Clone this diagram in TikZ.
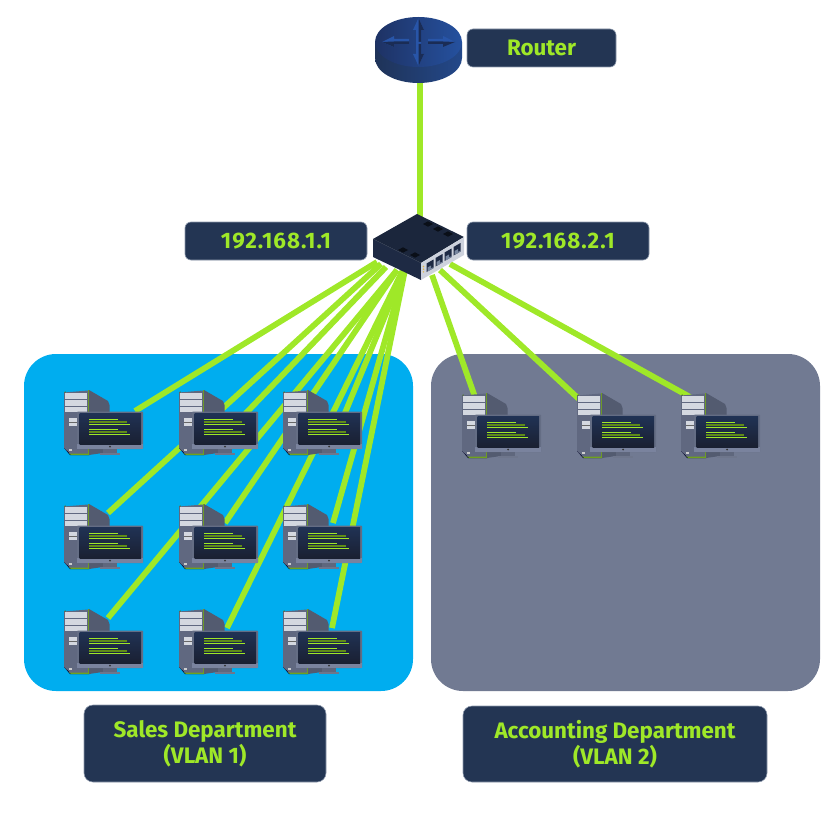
\documentclass[tikz,border=0pt]{standalone}
\usepackage{fontspec}
\setmainfont{Fira Sans}
\newfontfamily\ipfont[LetterSpace=4.4]{Fira Sans}
\definecolor{linkgreen}{HTML}{9FE828}
\definecolor{labelbg}{HTML}{233553}
\definecolor{labeledge}{HTML}{8E9AAD}
\definecolor{vlanblue}{HTML}{00ADEF}
\definecolor{vlangrey}{HTML}{717A92}
\definecolor{routerA}{HTML}{1F3358}
\definecolor{routerB}{HTML}{25519F}
\definecolor{swdark}{HTML}{1E2A44}
\definecolor{swtop}{HTML}{1B263C}
\definecolor{arrowdark}{HTML}{1A2C55}
\definecolor{arrowlight}{HTML}{2855A8}
\tikzset{
  x=1pt,y=-1pt,
  link/.style={line width=5.8pt,draw=linkgreen},
  region/.style={rounded corners=32pt,draw=none},
  tag/.style={draw=labeledge,line width=0.6pt,fill=labelbg,rounded corners=6pt,text=linkgreen,
    font=\fontsize{22.4}{26}\selectfont\bfseries,align=center,inner sep=0pt},
  scr/.style={line width=1.3pt,draw=linkgreen},
  scrd/.style={line width=1.3pt,draw=linkgreen!60!black},
  workstation/.pic={
    \fill[fill=black!70!blue!50!black] (-1,58) -- (5,65) -- (24,65) -- (24,60) -- cycle;
    \fill[fill=linkgreen!70!black] (23,0) -- (24,0) -- (24.5,65) -- (6,65) -- (4,63) -- (23,63) -- cycle;
    \fill[fill=linkgreen!50!black] (-1,2) -- (1,1.5) -- (0.5,5) -- (-1,5) -- cycle;
    \fill[fill={rgb,255:red,83;green,91;blue,112}] (24,0) -- (43,11) -- (44.5,15) -- (44.5,62) -- (24,65) -- cycle;
    \fill[fill={rgb,255:red,96;green,104;blue,128}] (-1,2.5) -- (23,0.5) -- (23,63.5) -- (5,63.5) -- (-1,58) -- cycle;
    \foreach \yy/\hh in {3/5.5,10/5.5,17/5}{
      \fill[fill={rgb,255:red,212;green,216;blue,224}] (0,\yy) rectangle (22,\yy+\hh);
    }
    \fill[fill={rgb,255:red,212;green,216;blue,224}] (4,28) rectangle (13,32);
    \fill[fill={rgb,255:red,212;green,216;blue,224}] (4,33) rectangle (13,35.5);
    \fill[fill=black!60] (4,32) rectangle (13,33);
    \fill[fill=white!80!black] (4,59) rectangle (7,60.5);
    \fill[fill={rgb,255:red,95;green,103;blue,125}] (38,59) rectangle (52,63);
    \fill[fill={rgb,255:red,110;green,118;blue,140}] (35,63) rectangle (55,65);
    \fill[fill={rgb,255:red,100;green,109;blue,132},rounded corners=0.8pt] (12,21.5) rectangle (78,59);
    \fill[fill={rgb,255:red,122;green,131;blue,158}] (12,54) rectangle (78,59);
    \shade[top color={rgb,255:red,32;green,50;blue,84},bottom color={rgb,255:red,26;green,32;blue,50}] (14.5,23.5) rectangle (76,54);
    \fill[fill=black!80] (45,56.5) circle[radius=1];
    \draw[scr] (24,29.5) -- (53,29.5);
    \draw[scrd] (24,32) -- (62,32);
    \draw[scr] (24,34.5) -- (65,34.5);
    \draw[scr] (24,39.5) -- (53,39.5);
    \draw[scrd] (24,42) -- (62,42);
    \draw[scr] (24,44.5) -- (65,44.5);
  },
  routerarrow/.style={fill=arrowdark},
  routerarrowb/.style={fill=arrowlight},
}
\begin{document}
\begin{tikzpicture}
\useasboundingbox (0,0) rectangle (829,813);
% VLAN regions
\fill[region,fill=vlanblue] (24,354) rectangle (413,691);
\fill[region,fill=vlangrey] (431,354) rectangle (820,691);

% anchor nodes
\node[inner sep=0pt,minimum size=2pt] (router) at (420,75) {};
\node[inner sep=0pt,minimum size=2pt] (switchtop) at (420,225) {};
\foreach \n/\x/\y in {a/377/262,b/381/264,c/386/267,d/397/270,e/397/270,f/403/270,g/404/270,h/405/270,i/405/270,x/432/275,y/440/270,z/450/264}{
  \coordinate (sw\n) at (\x,\y);
}
\foreach \n/\x/\y in {wsa/135/411,wsb/108/513,wsc/225/435,wsd/108/618,wse/225/523,wsf/227/628,wsg/340/425,wsh/333/523,wsi/332/628,wsx/475/397,wsy/580/400,wsz/690/397}{
  \node[inner sep=0pt,minimum size=1pt] (\n) at (\x,\y) {};
}
% connectors
\draw[link] (router.center) -- (switchtop.center);
\foreach \n in {a,b,c,d,e,f,g,h,i,x,y,z}{
  \draw[link] (sw\n) -- (ws\n.center);
}

% workstations
\foreach \x/\y in {65/390,180/390,284/390,65/504,180/504,284/504,65/609,180/609,284/609,463/393,578/393,682/393}{
  \pic at (\x,\y) {workstation};
}

% router
\shade[left color=routerA,right color=routerB!70!routerA]
  (375,42) -- (375,58) arc[start angle=180,end angle=0,x radius=43.5,y radius=25] -- (462,42) -- cycle;
\shade[left color={rgb,255:red,30;green,50;blue,100},right color=routerB]
  (418.5,42) circle[x radius=43.5,y radius=25];
% router arrows
\fill[routerarrowb] (418.5,18) -- (424,30) -- (421,30) -- (421,42) -- (416,42) -- (416,30) -- (413,30) -- cycle;
\fill[routerarrow] (418.5,18) -- (424,30) -- (421,30) -- (421,42) -- (418.5,42) -- cycle;
\fill[routerarrowb] (418.5,66) -- (424,54) -- (421,54) -- (421,42) -- (416,42) -- (416,54) -- (413,54) -- cycle;
\fill[routerarrow] (418.5,66) -- (424,54) -- (421,54) -- (421,44) -- (418.5,44) -- cycle;
\fill[routerarrowb] (382,42) -- (394,36) -- (394,39) -- (409,39) -- (409,44) -- (394,44) -- (394,47) -- cycle;
\fill[routerarrow] (382,42) -- (394,47) -- (394,44) -- (409,44) -- (409,41.5) -- (394,41.5) -- cycle;
\fill[routerarrowb] (455,42) -- (443,36) -- (443,39) -- (428,39) -- (428,44) -- (443,44) -- (443,47) -- cycle;
\fill[routerarrow] (455,42) -- (443,47) -- (443,44) -- (428,44) -- (428,41.5) -- (443,41.5) -- cycle;

% switch
\fill[swdark] (373,239) -- (421,263) -- (421,280) -- (373,257) -- cycle;
\fill[swtop] (373,239) -- (417,214) -- (464,237) -- (421,263) -- cycle;
\fill[fill={rgb,255:red,205;green,210;blue,220}] (421,263) -- (464,237) -- (464,255) -- (421,280) -- cycle;
\foreach \cx/\cy in {430/266,439/260.5,448/255,457/249.5}{
  \fill[fill=swdark,shift={(\cx,\cy)}] (-3.5,-2.5) -- (3.5,-6.5) -- (3.5,2) -- (-3.5,6) -- cycle;
  \fill[fill={rgb,255:red,120;green,135;blue,160},shift={(\cx,\cy)}] (-2.5,1.5) -- (1,-0.5) -- (1,2.5) -- (3.5,1) -- (3.5,2) -- (-2.5,5.5) -- cycle;
}
\foreach \dy in {0,2.7,5.4}{
  \fill[fill={rgb,255:red,225;green,180;blue,70}] (423.5,266.5+\dy) circle[radius=0.8];
}
\foreach \cx/\cy in {428/224,438/229,448/234,403/250,415/255}{
  \fill[fill=black!65!swdark,shift={(\cx,\cy)}] (-5,0) -- (0,-2.7) -- (5,0) -- (0,2.7) -- cycle;
}

% labels
\node[tag,minimum width=149pt,minimum height=38pt] (routerlabel) at (541.5,48) {Router};
\node[tag,minimum width=182pt,minimum height=38pt] (ipa) at (276,241) {\ipfont\bfseries 192.168.1.1};
\node[tag,minimum width=182pt,minimum height=38pt] (ipb) at (558,241) {\ipfont\bfseries 192.168.2.1};
\node[tag,minimum width=242pt,minimum height=77pt,rounded corners=9pt] (sales) at (205,743.5) {Sales Department\\(VLAN 1)};
\node[tag,minimum width=304pt,minimum height=76pt,rounded corners=9pt] (acct) at (615,744) {Accounting Department\\(VLAN 2)};
\end{tikzpicture}
\end{document}
